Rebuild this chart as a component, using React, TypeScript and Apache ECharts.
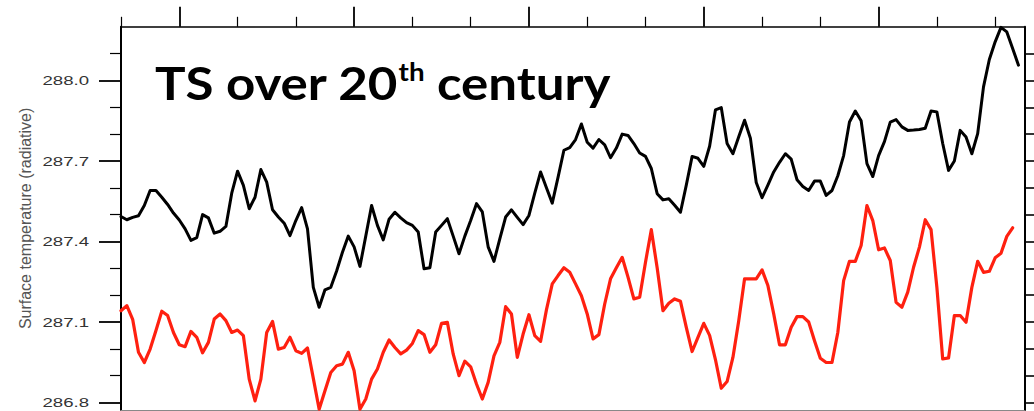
import React, { useEffect, useRef } from "react";
import * as echarts from "echarts";

// ---- data -------------------------------------------------------------
const START_YEAR = 1850;
const X_MIN = 1850;
const X_MAX = 2005;
const Y_MIN = 286.772;
const Y_MAX = 288.2;

// black curve (upper)
const blackValues = [
  287.493, 287.481, 287.49, 287.496, 287.534, 287.59, 287.59, 287.565, 287.538, 287.506,
  287.48, 287.447, 287.404, 287.414, 287.5, 287.488, 287.431, 287.438, 287.456, 287.58,
  287.662, 287.609, 287.522, 287.565, 287.668, 287.621, 287.518, 287.491, 287.468, 287.422,
  287.478, 287.526, 287.447, 287.229, 287.155, 287.22, 287.229, 287.29, 287.36, 287.42,
  287.38, 287.307, 287.42, 287.534, 287.46, 287.406, 287.483, 287.509, 287.488, 287.47,
  287.46, 287.435, 287.298, 287.302, 287.435, 287.46, 287.485, 287.42, 287.354, 287.42,
  287.478, 287.541, 287.51, 287.38, 287.326, 287.41, 287.491, 287.518, 287.49, 287.463,
  287.497, 287.58, 287.659, 287.6, 287.543, 287.64, 287.74, 287.75, 287.78, 287.838,
  287.77, 287.748, 287.78, 287.76, 287.712, 287.748, 287.8, 287.795, 287.765, 287.73,
  287.717, 287.672, 287.578, 287.555, 287.559, 287.535, 287.509, 287.61, 287.717, 287.71,
  287.68, 287.755, 287.89, 287.899, 287.765, 287.727, 287.79, 287.852, 287.785, 287.62,
  287.563, 287.61, 287.659, 287.695, 287.727, 287.707, 287.63, 287.605, 287.59, 287.625,
  287.625, 287.572, 287.59, 287.645, 287.72, 287.845, 287.886, 287.85, 287.69, 287.642,
  287.72, 287.772, 287.845, 287.854, 287.827, 287.814, 287.815, 287.817, 287.822, 287.886,
  287.883, 287.765, 287.665, 287.7, 287.814, 287.789, 287.727, 287.802, 287.976, 288.078,
  288.144, 288.198, 288.181, 288.119, 288.057,
];

// red curve (lower)
const redValues = [
  287.142, 287.161, 287.11, 286.987, 286.949, 286.999, 287.068, 287.14, 287.124, 287.061,
  287.015, 287.008, 287.065, 287.043, 286.985, 287.024, 287.111, 287.13, 287.105, 287.061,
  287.07, 287.049, 286.887, 286.806, 286.887, 287.061, 287.102, 286.999, 287.005, 287.043,
  286.993, 286.983, 287.003, 286.89, 286.775, 286.844, 286.912, 286.937, 286.943, 286.987,
  286.918, 286.775, 286.813, 286.887, 286.925, 286.987, 287.033, 287.005, 286.981, 286.995,
  287.02, 287.068, 287.053, 286.987, 287.015, 287.095, 287.099, 286.981, 286.9, 286.954,
  286.933, 286.869, 286.813, 286.875, 286.974, 287.024, 287.157, 287.13, 286.968, 287.055,
  287.127, 287.049, 287.028, 287.145, 287.242, 287.273, 287.302, 287.285, 287.242, 287.198,
  287.13, 287.037, 287.053, 287.167, 287.261, 287.302, 287.341, 287.267, 287.186, 287.192,
  287.323, 287.444, 287.302, 287.142, 287.17, 287.186, 287.177, 287.08, 286.99, 287.043,
  287.095, 287.05, 286.96, 286.853, 286.878, 286.968, 287.105, 287.261, 287.261, 287.261,
  287.294, 287.236, 287.13, 287.015, 287.015, 287.08, 287.12, 287.12, 287.1, 287.03,
  286.965, 286.949, 286.949, 287.061, 287.254, 287.326, 287.326, 287.385, 287.534, 287.478,
  287.369, 287.376, 287.329, 287.173, 287.155, 287.211, 287.304, 287.379, 287.481, 287.444,
  287.229, 286.962, 286.966, 287.124, 287.124, 287.099, 287.229, 287.326, 287.285, 287.289,
  287.339, 287.356, 287.419, 287.451,
];

// tick values
const yLabelValues = [286.8, 287.1, 287.4, 287.7, 288.0];
const yMinorValues = [286.9, 287.0, 287.2, 287.3, 287.5, 287.6, 287.8, 287.9, 288.1];
const yRightValues = [
  286.8, 286.9, 287.0, 287.1, 287.2, 287.3, 287.4, 287.5, 287.6, 287.7, 287.8, 287.9, 288.0, 288.1,
];
const xMajorValues = [1860, 1890, 1920, 1950, 1980];
const xMinorValues = [1850, 1870, 1880, 1900, 1910, 1930, 1940, 1960, 1970, 1990, 2000];

const Y_NAME = "Surface temperature (radiative)";
const TITLE_MAIN = "TS over 20";
const TITLE_SUP = "th";
const TITLE_END = " century";

export default function App() {
  const ref = useRef<HTMLDivElement>(null);

  useEffect(() => {
    if (!ref.current) return;
    const chart = echarts.init(ref.current, null, { renderer: "svg" });

    const toPairs = (vals: number[]) => vals.map((v, i) => [START_YEAR + i, v]);

    const hidden = { show: false };

    chart.setOption({
      animation: false,
      backgroundColor: "#ffffff",
      grid: { left: 121, right: 9.7, top: 26.8, bottom: 1 },
      xAxis: [
        {
          type: "value",
          position: "top",
          min: X_MIN,
          max: X_MAX,
          axisLine: { show: true, lineStyle: { color: "#000", width: 1.6 } },
          axisTick: {
            show: true,
            customValues: xMajorValues,
            length: 20,
            lineStyle: { color: "#000", width: 1.8 },
          },
          axisLabel: hidden,
          splitLine: hidden,
        },
        {
          type: "value",
          position: "top",
          min: X_MIN,
          max: X_MAX,
          axisLine: hidden,
          axisTick: {
            show: true,
            customValues: xMinorValues,
            length: 10,
            lineStyle: { color: "#000", width: 1.2 },
          },
          axisLabel: hidden,
          splitLine: hidden,
        },
        {
          type: "value",
          position: "bottom",
          min: X_MIN,
          max: X_MAX,
          axisLine: { show: true, lineStyle: { color: "#888", width: 1 } },
          axisTick: hidden,
          axisLabel: hidden,
          splitLine: hidden,
        },
      ],
      yAxis: [
        {
          type: "value",
          position: "left",
          min: Y_MIN,
          max: Y_MAX,
          name: Y_NAME,
          nameLocation: "middle",
          nameGap: 88,
          nameRotate: 90,
          nameTextStyle: { fontFamily: "Liberation Sans", fontSize: 16, color: "#555" },
          axisLine: { show: true, lineStyle: { color: "#000", width: 2 } },
          axisTick: {
            show: true,
            customValues: yLabelValues,
            length: 22,
            lineStyle: { color: "#000", width: 1.8 },
          },
          axisLabel: hidden,
          splitLine: hidden,
        },
        {
          type: "value",
          position: "left",
          min: Y_MIN,
          max: Y_MAX,
          axisLine: hidden,
          axisTick: {
            show: true,
            customValues: yMinorValues,
            length: 11,
            lineStyle: { color: "#000", width: 1.2 },
          },
          axisLabel: hidden,
          splitLine: hidden,
        },
        {
          type: "value",
          position: "right",
          min: Y_MIN,
          max: Y_MAX,
          axisLine: { show: true, lineStyle: { color: "#000", width: 2 } },
          axisTick: {
            show: true,
            customValues: yRightValues,
            length: 12,
            lineStyle: { color: "#000", width: 1.6 },
          },
          axisLabel: hidden,
          splitLine: hidden,
        },
      ],
      series: [
        {
          type: "line",
          name: "black",
          xAxisIndex: 0,
          yAxisIndex: 0,
          data: toPairs(blackValues),
          showSymbol: false,
          symbol: "none",
          lineStyle: { color: "#000000", width: 3, join: "round", cap: "round" },
          z: 3,
        },
        {
          type: "line",
          name: "red",
          xAxisIndex: 0,
          yAxisIndex: 0,
          data: toPairs(redValues),
          showSymbol: false,
          symbol: "none",
          lineStyle: { color: "#ff2010", width: 3.2, join: "round", cap: "round" },
          z: 3,
        },
      ],
    });

    const labelEls = yLabelValues.map((v) => {
      const py = chart.convertToPixel({ yAxisIndex: 0 }, v) as unknown as number;
      return {
        type: "text",
        x: 89,
        y: py,
        scaleX: 1.43,
        silent: true,
        style: {
          text: v.toFixed(1),
          fontFamily: "Liberation Sans",
          fontSize: 13,
          fill: "#333",
          align: "right",
          verticalAlign: "middle",
        },
      };
    });

    chart.setOption({
      graphic: [
        ...labelEls,
        {
          type: "text",
          x: 155,
          y: 82,
          scaleX: 1.11,
          silent: true,
          style: {
            text: `{a|${TITLE_MAIN}}{b|${TITLE_SUP}}{a|${TITLE_END}}`,
            verticalAlign: "middle",
            align: "left",
            rich: {
              a: {
                fontFamily: "Lato",
                fontWeight: "bold",
                fontSize: 46,
                fill: "#000",
                color: "#000",
              },
              b: {
                fontFamily: "Lato",
                fontWeight: "bold",
                fontSize: 25,
                fill: "#000",
                color: "#000",
                verticalAlign: "top",
              },
            },
          },
        },
      ],
    });

    return () => chart.dispose();
  }, []);

  return (
    <div
      ref={ref}
      style={{ position: "fixed", left: 0, top: 0, width: 1034, height: 411, background: "#fff" }}
    />
  );
}
